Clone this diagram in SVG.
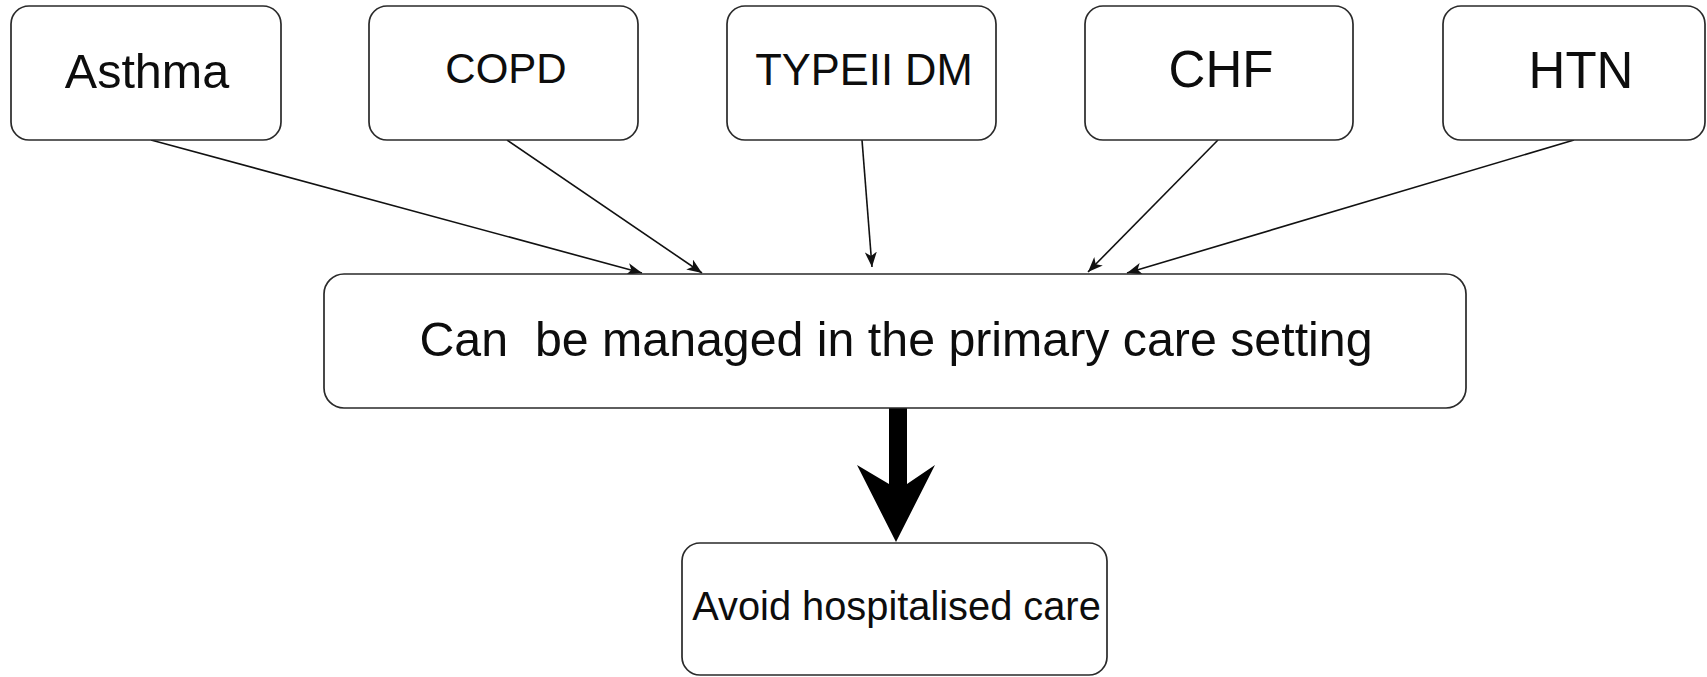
<svg xmlns="http://www.w3.org/2000/svg" width="1707" height="677" viewBox="0 0 1707 677">
  <style>
    .box { fill: #ffffff; stroke: #2a2a2a; stroke-width: 1.7; }
    .lbl { font-family: "Liberation Sans", Arial, sans-serif; fill: #0d0d0d; text-anchor: middle; }
    .edge { stroke: #111111; stroke-width: 1.6; fill: none; marker-end: url(#arr); }
  </style>
  <defs>
    <marker id="arr" markerUnits="userSpaceOnUse" markerWidth="16" markerHeight="12" refX="15" refY="6" orient="auto">
      <path d="M0,0 L15,6 L0,12 L4,6 Z" fill="#111111"/>
    </marker>
  </defs>
  <rect width="1707" height="677" fill="#ffffff"/>

  <g id="connectors">
    <line class="edge" x1="151" y1="140" x2="642" y2="273"/>
    <line class="edge" x1="507" y1="140" x2="702" y2="273"/>
    <line class="edge" x1="862" y1="140" x2="872" y2="267"/>
    <line class="edge" x1="1218" y1="140" x2="1088" y2="272"/>
    <line class="edge" x1="1574" y1="140" x2="1127" y2="273"/>
    <path id="thick-arrow" d="M889 408 L889 484 L857 465 L896 542 L935 465 L907 484 L907 408 Z" fill="#000000"/>
  </g>

  <g id="asthma">
    <rect class="box" x="11" y="6" width="270" height="134" rx="18" ry="18"/>
    <text class="lbl" x="147" y="88" font-size="48.5">Asthma</text>
  </g>
  <g id="copd">
    <rect class="box" x="369" y="6" width="269" height="134" rx="18" ry="18"/>
    <text class="lbl" x="506" y="83" font-size="42">COPD</text>
  </g>
  <g id="typeii-dm">
    <rect class="box" x="727" y="6" width="269" height="134" rx="18" ry="18"/>
    <text class="lbl" x="864" y="85" font-size="43.5">TYPEII DM</text>
  </g>
  <g id="chf">
    <rect class="box" x="1085" y="6" width="268" height="134" rx="18" ry="18"/>
    <text class="lbl" x="1221" y="87" font-size="51">CHF</text>
  </g>
  <g id="htn">
    <rect class="box" x="1443" y="6" width="262" height="134" rx="18" ry="18"/>
    <text class="lbl" x="1581" y="88" font-size="51">HTN</text>
  </g>
  <g id="primary-care">
    <rect class="box" x="324" y="274" width="1142" height="134" rx="20" ry="20"/>
    <text class="lbl" x="896" y="356" font-size="48.3" xml:space="preserve">Can  be managed in the primary care setting</text>
  </g>
  <g id="avoid-hospital">
    <rect class="box" x="682" y="543" width="425" height="132" rx="18" ry="18"/>
    <text class="lbl" x="896.5" y="620" font-size="39.8">Avoid hospitalised care</text>
  </g>
</svg>
